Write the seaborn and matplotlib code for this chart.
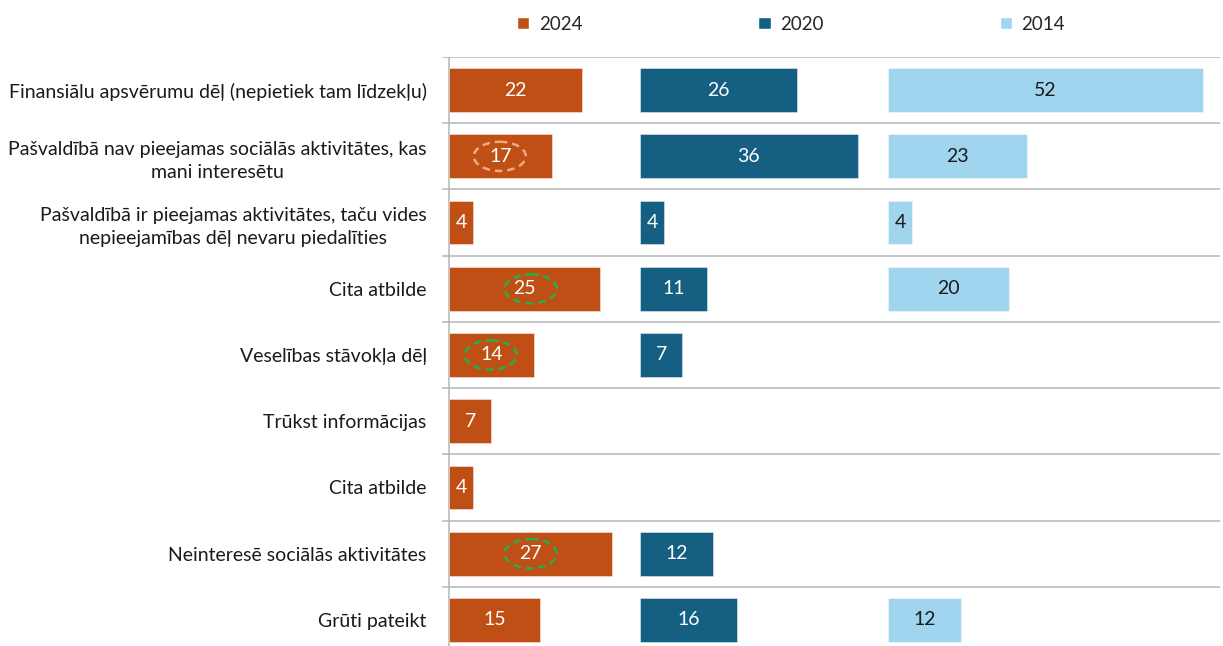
import numpy as np
import pandas as pd
import matplotlib
matplotlib.use("Agg")
import matplotlib.pyplot as plt
import seaborn as sns
from matplotlib.patches import Ellipse, Patch

### data
reasons = ["Finansiālu apsvērumu dēļ (nepietiek tam līdzekļu)",
           "Pašvaldībā nav pieejamas sociālās aktivitātes, kas\nmani interesētu",
           "Pašvaldībā ir pieejamas aktivitātes, taču vides\nnepieejamības dēļ nevaru piedalīties",
           "Cita atbilde",
           "Veselības stāvokļa dēļ",
           "Trūkst informācijas",
           "Cita atbilde",
           "Neinteresē sociālās aktivitātes",
           "Grūti pateikt"]
years = ["2024", "2020", "2014"]
v2024 = [22, 17, 4, 25, 14, 7, 4, 27, 15]
v2020 = [26, 36, 4, 11, 7, np.nan, np.nan, 12, 16]
v2014 = [52, 23, 4, 20, np.nan, np.nan, np.nan, np.nan, 12]

colors = {"2024": "#C04F15", "2020": "#156082", "2014": "#A0D5F0"}
label_colors = {"2024": "white", "2020": "white", "2014": "#1a1a1a"}

rows = list(range(len(reasons)))
df = pd.DataFrame({"row": rows, "2024": v2024, "2020": v2020, "2014": v2014})

sns.set_style("white")
plt.rcParams["font.family"] = ["Lato", "DejaVu Sans"]

W, H = 1223, 646
fig = plt.figure(figsize=(W / 100, H / 100), dpi=100)

# panels in pixel terms: (left px, right px, px of value 0)
px_per_unit = 6.05
panels = {"2024": (442, 640, 449), "2020": (640, 888, 640), "2014": (888, 1220, 888)}
top_px, bot_px = 57, 653

axes = {}
for yr in years:
    l, r, zero = panels[yr]
    ax = fig.add_axes([l / W, 1 - bot_px / H, (r - l) / W, (bot_px - top_px) / H])
    d = df[["row", yr]].dropna()
    sns.barplot(data=d, x=yr, y="row", orient="y", order=rows, color=colors[yr],
                width=0.66, ax=ax, edgecolor=(1, 1, 1, 0.5), linewidth=0.6,
                saturation=1)
    ax.set_xlim((l - zero) / px_per_unit, (r - zero) / px_per_unit)
    ax.set_ylim(len(rows) - 0.5, -0.5)
    for b in np.arange(-0.5, len(rows), 1.0):
        ax.axhline(b, color="#B5B5B5", lw=1.1, zorder=0)
    for c in ax.containers:
        ax.bar_label(c, label_type="center", color=label_colors[yr], fontsize=14)
    ax.set_xlabel("")
    ax.set_ylabel("")
    ax.set_xticks([])
    sns.despine(ax=ax, left=True, bottom=True)
    ax.tick_params(axis="y", length=0)
    if yr == "2024":
        ax.set_yticks(rows)
        ax.set_yticklabels(reasons, fontsize=14, multialignment="center", color="#1a1a1a",
                           linespacing=1.45)
        ax.tick_params(axis="y", pad=11)
        ax.axvline(0, color="#B5B5B5", lw=1.1, zorder=0)
    else:
        ax.set_yticks([])
    axes[yr] = ax

# dashed highlight rings on 2024 labels
rings = [(8.4, 1, "#F1A983"), (13.5, 3, "#22B04B"), (6.9, 4, "#22B04B"), (13.5, 7, "#22B04B")]
for x, y, c in rings:
    axes["2024"].add_patch(Ellipse((x, y), 8.6, 0.44, fill=False, edgecolor=c,
                                   lw=1.8, ls=(0, (3, 2)), zorder=5))

handles = [Patch(facecolor=colors[yr], label=yr) for yr in years]
fig.legend(handles=handles, loc="center", bbox_to_anchor=(791 / W, 1 - 24 / H), ncol=3,
           frameon=False, fontsize=13.5, handlelength=0.65, handleheight=0.65,
           handletextpad=0.5, columnspacing=9.4)

fig.savefig("out.png", dpi=100)
